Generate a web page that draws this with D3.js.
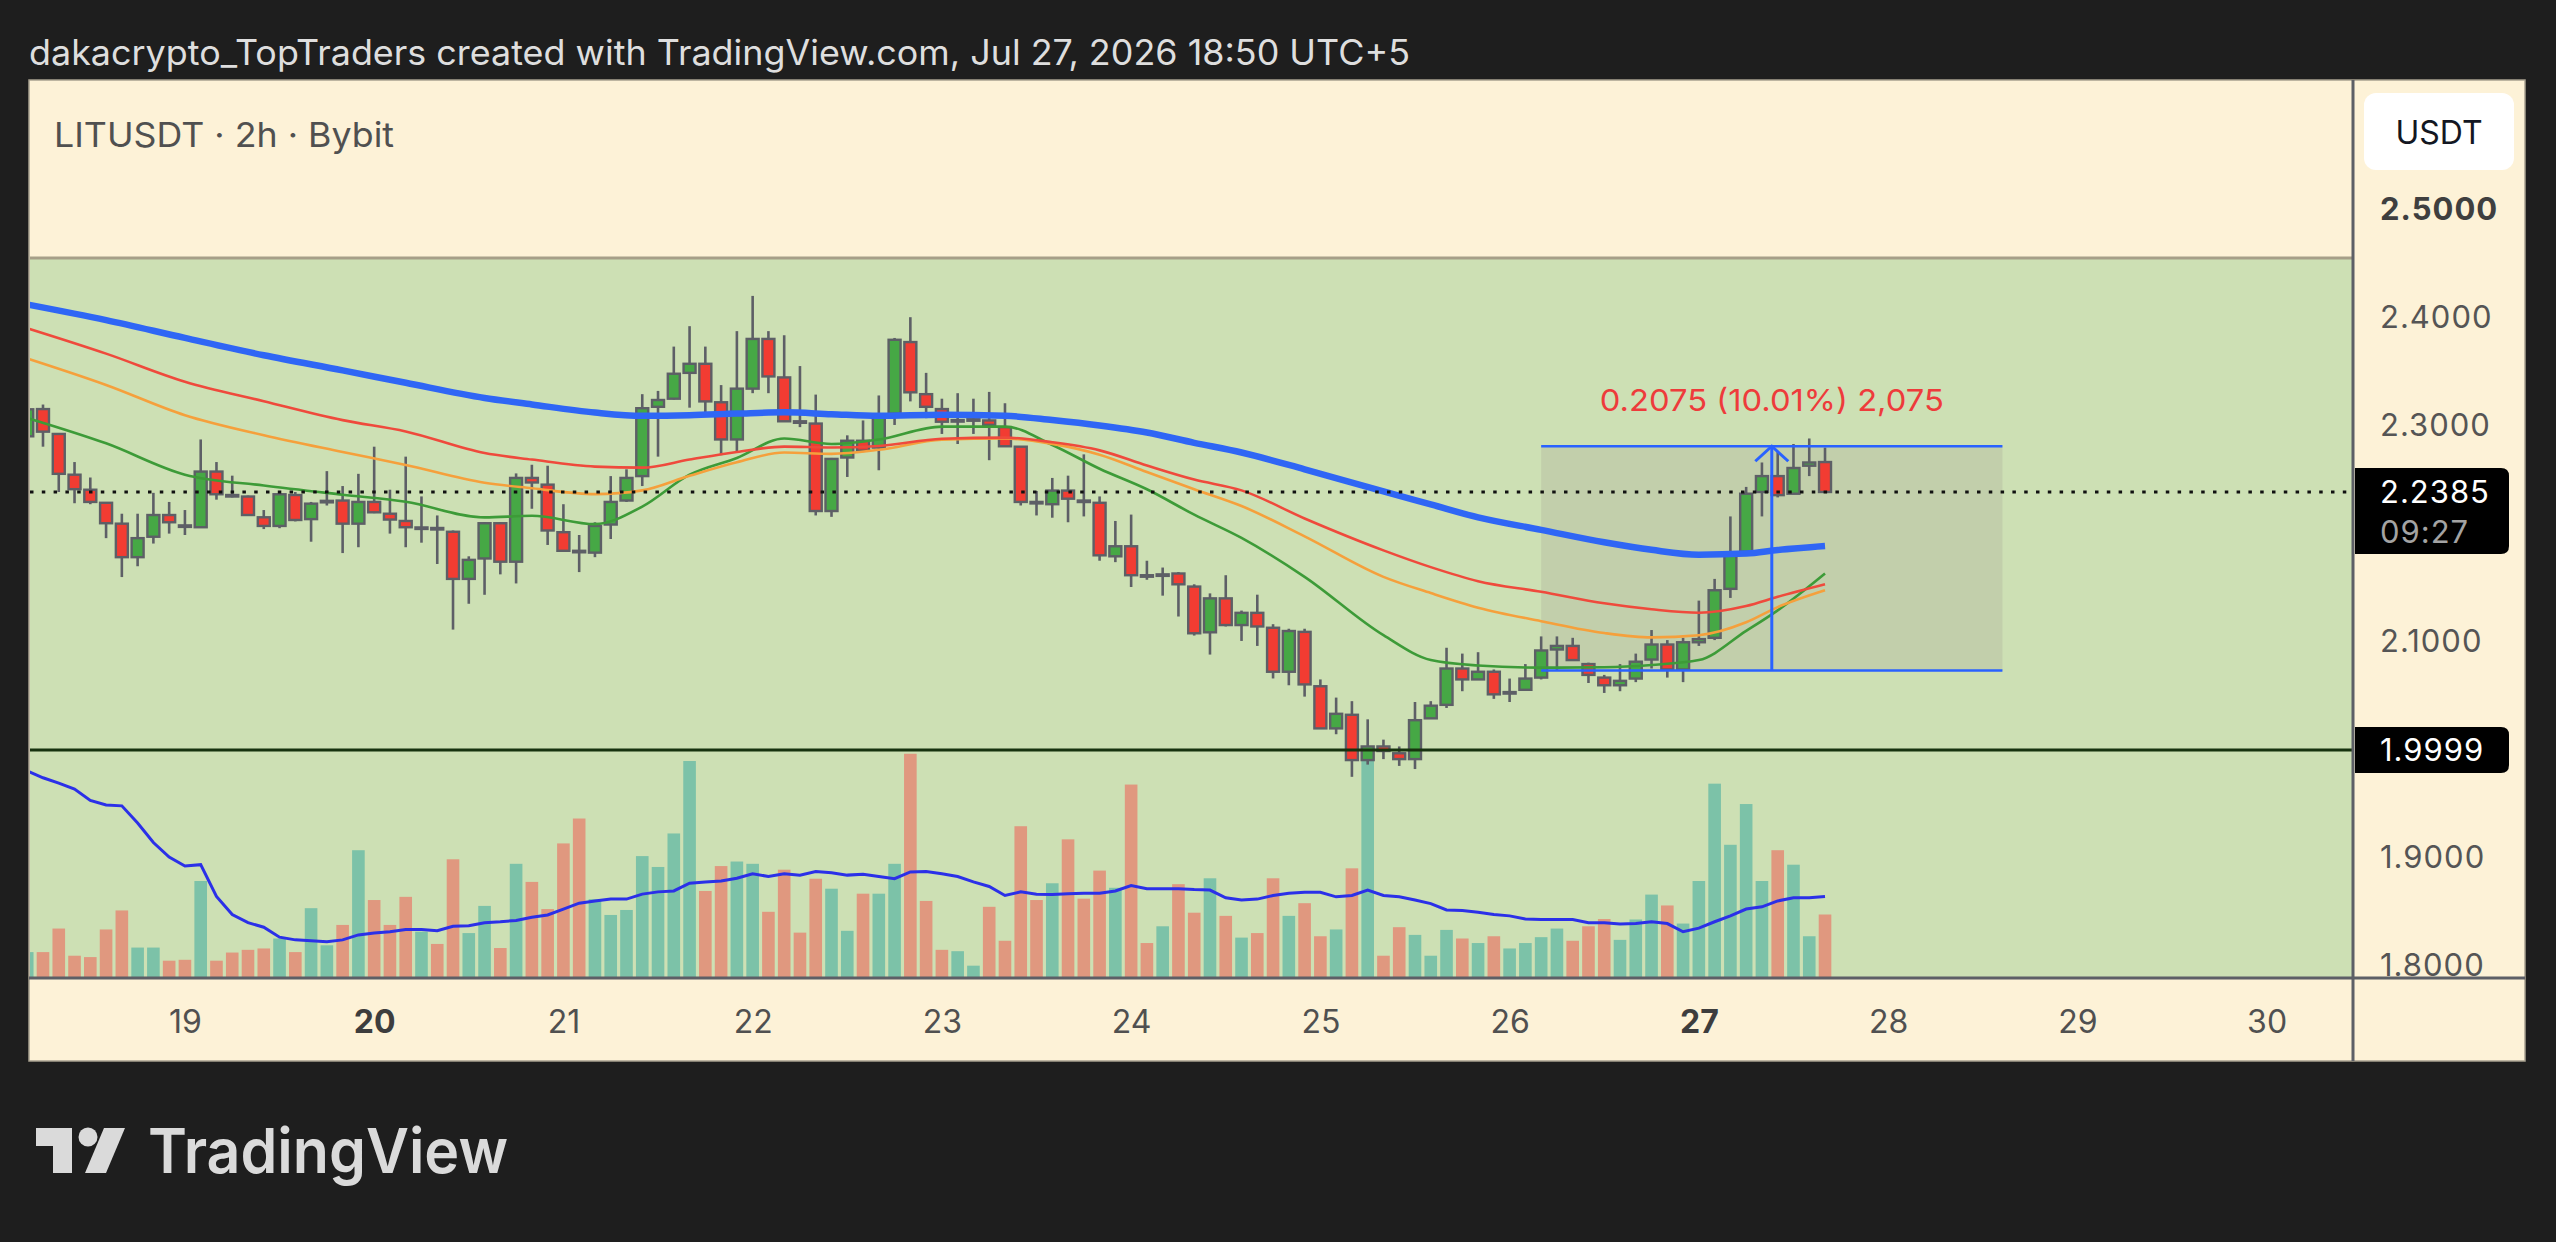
<!DOCTYPE html>
<html>
<head>
<meta charset="utf-8">
<script src="https://cdn.jsdelivr.net/npm/d3@7"></script>
<style>
  html, body { margin: 0; background: #1e1e1e; }
  svg { display: block; font-family: Inter, "Noto Sans", sans-serif; }
</style>
</head>
<body>
<svg id="chart" width="2556" height="1242"></svg>
<script>
// LITUSDT 2h candles, first bar Jul 18 04:00 (UTC+5)
const firstBar = Date.UTC(2026, 6, 18, 4);
const barMs = 2 * 3600 * 1000;

const open = [
  2.2900, 2.3152, 2.2922, 2.2545, 2.2406, 2.2285, 2.2092, 2.1782, 2.1971, 2.2172, 2.2076, 2.2059, 2.2574, 2.2357, 2.2343, 2.2151, 2.2071, 2.2357, 2.2134, 2.2302, 2.2306,
  2.2092, 2.2293, 2.2184, 2.2117, 2.2056, 2.2052, 2.2017, 2.1581, 2.1770, 2.2096,
  2.1740, 2.2515, 2.2453, 2.2013, 2.1841, 2.1824, 2.2084, 2.2306, 2.2532, 2.3173,
  2.3248, 2.3487, 2.3571, 2.3215, 2.2871, 2.3341, 2.3801, 2.3445, 2.3039, 2.3018,
  2.2209, 2.2704, 2.2859, 2.2796, 2.3110, 2.3772, 2.3290, 2.3152, 2.3046, 2.3054,
  2.3047, 2.2985, 2.2804, 2.2293, 2.2272, 2.2398, 2.2306, 2.2285, 2.1790, 2.1883,
  2.1615, 2.1621, 2.1631, 2.1510, 2.1087, 2.1401, 2.1154, 2.1267, 2.1129, 2.0722,
  2.1091, 2.0588, 2.0198, 2.0324, 1.9905, 2.0031, 1.9968, 1.9914, 2.0291, 2.0416,
  2.0752, 2.0651, 2.0722, 2.0532, 2.0555, 2.0668, 2.0928, 2.0961, 2.0793, 2.0668,
  2.0597, 2.0659, 2.0835, 2.0974, 2.0743, 2.0995, 2.1036, 2.1489, 2.1832, 2.2385, 2.2532, 2.2369, 2.2628, 2.2662
];
const high = [
  2.3194, 2.3194, 2.2930, 2.2662, 2.2519, 2.2285, 2.2184, 2.2184, 2.2377, 2.2293, 2.2218, 2.2871, 2.2662, 2.2536, 2.2352, 2.2218, 2.2377, 2.2385, 2.2293, 2.2578, 2.2440,
  2.2553, 2.2804, 2.2406, 2.2712, 2.2344, 2.2168, 2.2029, 2.1790, 2.2105, 2.2105,
  2.2557, 2.2637, 2.2628, 2.2272, 2.1987, 2.2105, 2.2532, 2.2595, 2.3290, 2.3320,
  2.3730, 2.3919, 2.3730, 2.3374, 2.3873, 2.4199, 2.3873, 2.3835, 2.3550, 2.3286,
  2.2700, 2.2909, 2.3047, 2.3278, 2.3810, 2.4002, 2.3487, 2.3248, 2.3299, 2.3248,
  2.3311, 2.3206, 2.2808, 2.2394, 2.2515, 2.2536, 2.2733, 2.2344, 2.2117, 2.2176,
  2.1749, 2.1686, 2.1644, 2.1531, 2.1447, 2.1615, 2.1288, 2.1435, 2.1162, 2.1120,
  2.1120, 2.0651, 2.0483, 2.0450, 2.0282, 2.0094, 2.0031, 2.0442, 2.0450, 2.0944,
  2.0890, 2.0903, 2.0743, 2.0659, 2.0793, 2.1049, 2.1049, 2.1036, 2.0806, 2.0693,
  2.0793, 2.0890, 2.1108, 2.1015, 2.1036, 2.1380, 2.1581, 2.2159, 2.2432, 2.2658, 2.2754, 2.2829, 2.2880, 2.2796
];
const low = [
  2.2850, 2.2804, 2.2385, 2.2281, 2.2272, 2.1958, 2.1598, 2.1698, 2.1908, 2.2000, 2.1987, 2.2059, 2.2314, 2.2335, 2.2163, 2.2042, 2.2050, 2.2113, 2.1925, 2.2260, 2.1820,
  2.1874, 2.2189, 2.2000, 2.1874, 2.1916, 2.1719, 2.1112, 2.1351, 2.1434, 2.1623,
  2.1539, 2.2230, 2.1895, 2.1836, 2.1644, 2.1782, 2.1950, 2.2293, 2.2440, 2.2712,
  2.3240, 2.3165, 2.3089, 2.2725, 2.2754, 2.3299, 2.3299, 2.3035, 2.2985, 2.2168,
  2.2155, 2.2524, 2.2754, 2.2586, 2.3005, 2.3223, 2.3068, 2.2922, 2.2829, 2.2922,
  2.2679, 2.2804, 2.2260, 2.2168, 2.2147, 2.2105, 2.2159, 2.1749, 2.1736, 2.1506,
  2.1573, 2.1426, 2.1233, 2.1057, 2.0881, 2.1141, 2.1007, 2.0961, 2.0660, 2.0597,
  2.0492, 2.0195, 2.0144, 1.9750, 1.9863, 1.9914, 1.9851, 1.9822, 2.0288, 2.0387,
  2.0542, 2.0648, 2.0471, 2.0442, 2.0552, 2.0651, 2.0735, 2.0825, 2.0618, 2.0526,
  2.0542, 2.0626, 2.0752, 2.0668, 2.0626, 2.0961, 2.1015, 2.1405, 2.1828, 2.2159, 2.2335, 2.2365, 2.2532, 2.2377
];
const close = [
  2.3150, 2.2943, 2.2553, 2.2411, 2.2293, 2.2096, 2.1782, 2.1958, 2.2172, 2.2105, 2.2072, 2.2574, 2.2364, 2.2355, 2.2172, 2.2071, 2.2364, 2.2126, 2.2277, 2.2303, 2.2092,
  2.2293, 2.2197, 2.2130, 2.2059, 2.2057, 2.2050, 2.1581, 2.1757, 2.2096, 2.1740,
  2.2515, 2.2473, 2.2029, 2.1841, 2.1839, 2.2071, 2.2293, 2.2515, 2.3160, 2.3236,
  2.3479, 2.3571, 2.3223, 2.2871, 2.3341, 2.3801, 2.3454, 2.3039, 2.3037, 2.2209,
  2.2691, 2.2859, 2.2767, 2.3098, 2.3793, 2.3307, 2.3173, 2.3035, 2.3050, 2.3058,
  2.3006, 2.2808, 2.2293, 2.2290, 2.2398, 2.2323, 2.2304, 2.1799, 2.1883, 2.1615,
  2.1613, 2.1623, 2.1531, 2.1078, 2.1401, 2.1154, 2.1267, 2.1141, 2.0722, 2.1099,
  2.0605, 2.0198, 2.0333, 1.9905, 2.0031, 1.9989, 1.9914, 2.0274, 2.0408, 2.0752,
  2.0651, 2.0722, 2.0513, 2.0534, 2.0659, 2.0919, 2.0961, 2.0830, 2.0693, 2.0597,
  2.0638, 2.0815, 2.0974, 2.0743, 2.0995, 2.1024, 2.1476, 2.1811, 2.2369, 2.2532, 2.2356, 2.2607, 2.2658, 2.2385
];
// volume in thousands of LIT, and its moving average
const volume = [
  55, 55, 107, 47, 44, 105, 147, 65, 65, 36, 38, 212, 36, 54, 60, 63, 85, 55, 152, 70, 115,
  280, 170, 115, 177, 100, 73, 260, 97, 157, 64,
  250, 210, 150, 295, 350, 172, 137, 148, 267, 243,
  317, 477, 190, 245, 255, 250, 144, 237, 98, 217,
  195, 102, 184, 184, 250, 493, 168, 60, 57, 25,
  155, 80, 333, 170, 207, 304, 173, 235, 197, 425,
  75, 112, 205, 142, 218, 135, 87, 97, 218, 135,
  163, 90, 105, 240, 480, 47, 110, 93, 47, 104,
  85, 75, 90, 63, 75, 88, 107, 80, 112, 128,
  82, 127, 182, 158, 118, 212, 427, 292, 382, 212, 280, 248, 90, 138
];
const volumeMa = [
  455, 440, 428, 415, 390, 380, 378, 340, 297, 265, 245, 248, 178, 138, 120, 110, 88, 82, 80, 78, 82,
  93, 97, 100, 105, 105, 102, 112, 113, 120, 122,
  125, 132, 137, 150, 163, 168, 172, 172, 183, 188,
  190, 207, 210, 212, 218, 228, 222, 228, 225, 233,
  230, 225, 227, 222, 217, 232, 233, 228, 222, 210,
  200, 180, 188, 183, 182, 184, 185, 185, 190, 202,
  195, 195, 195, 193, 192, 175, 170, 172, 180, 185,
  187, 187, 177, 180, 192, 180, 177, 170, 162, 148,
  147, 143, 138, 135, 128, 127, 127, 127, 120, 120,
  117, 118, 122, 118, 100, 108, 122, 135, 150, 155, 168, 175, 175, 178
];

// moving averages, read at these bar numbers
const maBar = [0, 5, 10, 15, 20, 24, 29, 32, 36, 39, 42, 45, 48, 51, 54, 58, 62, 65, 68, 71, 74, 77, 81, 86, 89, 92, 96, 100, 103, 106, 109, 111, 114];
const ema200 = [2.4120, 2.3975, 2.3810, 2.3650, 2.3510, 2.3395, 2.3255, 2.3195, 2.3120, 2.3090, 2.3095, 2.3110, 2.3122, 2.3105, 2.3090, 2.3100, 2.3090, 2.3050, 2.3000, 2.2935, 2.2840, 2.2750, 2.2595, 2.2390, 2.2270, 2.2150, 2.2035, 2.1920, 2.1850, 2.1805, 2.1815, 2.1848, 2.1885];
const ema100 = [2.3900, 2.3665, 2.3405, 2.3225, 2.3050, 2.2945, 2.2745, 2.2685, 2.2620, 2.2610, 2.2685, 2.2755, 2.2805, 2.2796, 2.2810, 2.2878, 2.2888, 2.2845, 2.2770, 2.2630, 2.2500, 2.2400, 2.2140, 2.1845, 2.1690, 2.1560, 2.1462, 2.1355, 2.1300, 2.1268, 2.1330, 2.1415, 2.1531];
const ema50 = [2.3620, 2.3375, 2.3095, 2.2910, 2.2755, 2.2635, 2.2470, 2.2420, 2.2365, 2.2400, 2.2535, 2.2660, 2.2750, 2.2738, 2.2775, 2.2868, 2.2880, 2.2830, 2.2730, 2.2570, 2.2410, 2.2255, 2.1975, 2.1600, 2.1450, 2.1315, 2.1190, 2.1080, 2.1040, 2.1060, 2.1180, 2.1320, 2.1476];
const ema20 = [2.3070, 2.2835, 2.2545, 2.2445, 2.2360, 2.2295, 2.2150, 2.2165, 2.2088, 2.2250, 2.2545, 2.2700, 2.2880, 2.2829, 2.2870, 2.2990, 2.2990, 2.2820, 2.2600, 2.2410, 2.2175, 2.1960, 2.1600, 2.1060, 2.0830, 2.0780, 2.0760, 2.0764, 2.0785, 2.0830, 2.1100, 2.1290, 2.1631];

// 2.2000 and 2.0000 sit under the price labels, so they are not shown
const priceTicks = [1.8, 1.9, 2.1, 2.3, 2.4, 2.5];
const boldPriceTicks = [2.5];
const supportLevel = 1.9999;
const zoneTop = 2.455;
const countdown = '09:27';
// price range measurement drawing
const measureBars = [96, 125.25];
const measurePrices = [2.0733, 2.2808];

const title = 'dakacrypto_TopTraders created with TradingView.com, Jul 27, 2026 18:50 UTC+5';
const symbolLine = 'LITUSDT · 2h · Bybit';

// layout
const panel = { left: 29, top: 80, right: 2525, bottom: 1061 };
const plot = { left: 30, top: 81, right: 2353, bottom: 978 };
const cream = '#fdf2d7';
const zoneGreen = '#cde0b4';
const gridGray = '#5d5f66';
const upColor = '#46a845', downColor = '#f23c32';
const upVol = '#7cc2a8', downVol = '#e0987f';

const svg = d3.select('#chart');
const barTime = b => new Date(firstBar + b * barMs);

const x = d3.scaleUtc()
  .domain([barTime(0.176), barTime(147.48)])
  .range([plot.left, plot.right]);
const y = d3.scaleLinear()
  .domain([1.7889, 2.6187])
  .range([plot.bottom, plot.top]);
const yVol = d3.scaleLinear()
  .domain([0, 500])
  .range([plot.bottom - 1, plot.bottom - 1 - 226.4]);

const bars = open.map((o, i) => ({
  t: barTime(i), o, h: high[i], l: low[i], c: close[i], v: volume[i], vma: volumeMa[i]
}));
const step = x(barTime(1)) - x(barTime(0));

svg.append('rect').attr('width', 2556).attr('height', 1242).attr('fill', '#1e1e1e');

svg.append('text')
  .attr('x', 29).attr('y', 65)
  .attr('font-size', 35).attr('fill', '#dedede')
  .attr('textLength', 1381).attr('lengthAdjust', 'spacingAndGlyphs')
  .text(title);

svg.append('rect')
  .attr('x', panel.left).attr('y', panel.top)
  .attr('width', panel.right - panel.left).attr('height', panel.bottom - panel.top)
  .attr('fill', cream).attr('stroke', '#a8a190').attr('stroke-width', 1.5);

const defs = svg.append('defs');
defs.append('clipPath').attr('id', 'plot-clip').append('rect')
  .attr('x', plot.left).attr('y', plot.top)
  .attr('width', plot.right - plot.left).attr('height', plot.bottom - plot.top);

const g = svg.append('g').attr('clip-path', 'url(#plot-clip)');

// green zone drawing
g.append('rect')
  .attr('x', plot.left).attr('y', y(zoneTop))
  .attr('width', plot.right - plot.left).attr('height', plot.bottom - y(zoneTop))
  .attr('fill', zoneGreen);
g.append('line')
  .attr('x1', plot.left).attr('x2', plot.right)
  .attr('y1', y(zoneTop)).attr('y2', y(zoneTop))
  .attr('stroke', '#a69f88').attr('stroke-width', 3);

// measurement box fill
const mx0 = x(barTime(measureBars[0])), mx1 = x(barTime(measureBars[1]));
const myLow = y(measurePrices[0]), myHigh = y(measurePrices[1]);
g.append('rect')
  .attr('x', mx0).attr('y', myHigh)
  .attr('width', mx1 - mx0).attr('height', myLow - myHigh)
  .attr('fill', '#c2cfab');

// volume
g.append('g').selectAll('rect').data(bars).join('rect')
  .attr('x', d => x(d.t) - step * 0.4)
  .attr('width', step * 0.8)
  .attr('y', d => yVol(d.v))
  .attr('height', d => yVol(0) - yVol(d.v))
  .attr('fill', d => d.c >= d.o ? upVol : downVol);

g.append('path')
  .datum(bars)
  .attr('fill', 'none').attr('stroke', '#2b30e8').attr('stroke-width', 3)
  .attr('d', d3.line().x(d => x(d.t)).y(d => yVol(d.vma)));

// candles
const candle = g.append('g').selectAll('g').data(bars).join('g');
candle.append('line')
  .attr('x1', d => x(d.t)).attr('x2', d => x(d.t))
  .attr('y1', d => y(d.h)).attr('y2', d => y(d.l))
  .attr('stroke', gridGray).attr('stroke-width', 2.6);
candle.append('rect')
  .attr('x', d => x(d.t) - step * 0.38)
  .attr('width', step * 0.76)
  .attr('y', d => y(Math.max(d.o, d.c)))
  .attr('height', d => Math.max(1.5, Math.abs(y(d.o) - y(d.c))))
  .attr('fill', d => d.c >= d.o ? upColor : downColor)
  .attr('stroke', gridGray).attr('stroke-width', 2.4);

// moving averages
const maLine = d3.line()
  .x((d, i) => x(barTime(maBar[i])))
  .y(d => y(d))
  .curve(d3.curveMonotoneX);
[
  { values: ema20, color: '#3d9b38', width: 2.6 },
  { values: ema50, color: '#f5a03c', width: 2.6 },
  { values: ema100, color: '#ef4a3c', width: 2.6 },
  { values: ema200, color: '#2f66f5', width: 6.5 }
].forEach(s => {
  g.append('path')
    .datum(s.values)
    .attr('fill', 'none').attr('stroke', s.color).attr('stroke-width', s.width)
    .attr('stroke-linejoin', 'round')
    .attr('d', maLine);
});

// support and last price lines
g.append('line')
  .attr('x1', plot.left).attr('x2', plot.right)
  .attr('y1', y(supportLevel)).attr('y2', y(supportLevel))
  .attr('stroke', '#17330f').attr('stroke-width', 3);

const lastPrice = close[close.length - 1];
g.append('line')
  .attr('x1', plot.left).attr('x2', plot.right)
  .attr('y1', y(lastPrice)).attr('y2', y(lastPrice))
  .attr('stroke', '#111').attr('stroke-width', 3)
  .attr('stroke-dasharray', '3.5 8.3');

// measurement lines, arrow and label
const measureBlue = '#2962ff';
[myHigh, myLow].forEach(yy => {
  g.append('line')
    .attr('x1', mx0).attr('x2', mx1).attr('y1', yy).attr('y2', yy)
    .attr('stroke', measureBlue).attr('stroke-width', 2.6);
});
const mcx = (mx0 + mx1) / 2;
g.append('line')
  .attr('x1', mcx).attr('x2', mcx).attr('y1', myLow).attr('y2', myHigh)
  .attr('stroke', measureBlue).attr('stroke-width', 3);
g.append('path')
  .attr('d', `M${mcx - 16.5},${myHigh + 15}L${mcx},${myHigh}L${mcx + 16.5},${myHigh + 15}`)
  .attr('fill', 'none').attr('stroke', measureBlue).attr('stroke-width', 3);

const diff = measurePrices[1] - measurePrices[0];
const measureText = `${diff.toFixed(4)} (${(diff / measurePrices[0] * 100).toFixed(2)}%) ${d3.format(',')(Math.round(diff * 10000))}`;
g.append('text')
  .attr('x', mcx).attr('y', myHigh - 35)
  .attr('text-anchor', 'middle')
  .attr('font-size', 30).attr('fill', '#ee3b3b')
  .attr('textLength', 344).attr('lengthAdjust', 'spacingAndGlyphs')
  .text(measureText);

// price axis
const yAxis = svg.append('g')
  .attr('transform', `translate(2380,0)`)
  .call(d3.axisRight(y).tickValues(priceTicks).tickFormat(d3.format('.4f')).tickSize(0).tickPadding(0));
yAxis.select('.domain').remove();
yAxis.selectAll('text')
  .attr('font-family', 'Inter, "Noto Sans", sans-serif')
  .attr('font-size', 31)
  .attr('letter-spacing', 1)
  .attr('font-weight', d => boldPriceTicks.includes(d) ? 700 : 400)
  .attr('fill', d => boldPriceTicks.includes(d) ? '#3f3f3f' : '#555');

// time axis
const days = d3.utcDay.range(new Date(Date.UTC(2026, 6, 19)), new Date(Date.UTC(2026, 6, 31)));
const xAxis = svg.append('g')
  .attr('transform', `translate(0,1010)`)
  .call(d3.axisBottom(x).tickValues(days).tickFormat(d3.utcFormat('%-d')).tickSize(0).tickPadding(0));
xAxis.select('.domain').remove();
xAxis.selectAll('text')
  .attr('font-family', 'Inter, "Noto Sans", sans-serif')
  .attr('font-size', 32)
  .attr('font-weight', d => d.getUTCDay() === 1 ? 700 : 400)
  .attr('fill', d => d.getUTCDay() === 1 ? '#3d3d3d' : '#505050');

// separators
svg.append('line')
  .attr('x1', panel.left).attr('x2', panel.right)
  .attr('y1', plot.bottom).attr('y2', plot.bottom)
  .attr('stroke', gridGray).attr('stroke-width', 3);
svg.append('line')
  .attr('x1', plot.right).attr('x2', plot.right)
  .attr('y1', panel.top).attr('y2', panel.bottom)
  .attr('stroke', gridGray).attr('stroke-width', 3);

// price labels on the axis
function labelBox(y0, y1) {
  const x0 = plot.right + 2, x1 = 2509, r = 8;
  return `M${x0},${y0}H${x1 - r}Q${x1},${y0} ${x1},${y0 + r}V${y1 - r}Q${x1},${y1} ${x1 - r},${y1}H${x0}Z`;
}
const lastY = y(lastPrice);
svg.append('path').attr('d', labelBox(lastY - 24, lastY + 62)).attr('fill', '#000');
svg.append('text').attr('x', 2380).attr('y', lastY + 11)
  .attr('font-size', 31).attr('letter-spacing', 1).attr('fill', '#fff')
  .text(lastPrice.toFixed(4));
svg.append('text').attr('x', 2380).attr('y', lastY + 51)
  .attr('font-size', 31).attr('letter-spacing', 1).attr('fill', '#a3a3a3')
  .text(countdown);

const supY = y(supportLevel);
svg.append('path').attr('d', labelBox(supY - 23, supY + 23)).attr('fill', '#000');
svg.append('text').attr('x', 2380).attr('y', supY + 11)
  .attr('font-size', 31).attr('letter-spacing', 1).attr('fill', '#fff')
  .text(supportLevel.toFixed(4));

// currency button
svg.append('rect')
  .attr('x', 2364).attr('y', 93).attr('width', 150).attr('height', 77).attr('rx', 12)
  .attr('fill', '#fff');
svg.append('text')
  .attr('x', 2439).attr('y', 144).attr('text-anchor', 'middle')
  .attr('font-size', 32).attr('fill', '#131722')
  .text('USDT');

// symbol legend
svg.append('text')
  .attr('x', 54).attr('y', 147)
  .attr('font-size', 34).attr('fill', '#505050')
  .attr('textLength', 340).attr('lengthAdjust', 'spacingAndGlyphs')
  .text(symbolLine);

// TradingView logo
const logo = svg.append('g').attr('fill', '#dadada');
logo.append('path').attr('d', 'M36,1128H72V1173H53V1146H36Z');
logo.append('circle').attr('cx', 88).attr('cy', 1137).attr('r', 9.5);
logo.append('path').attr('d', 'M104,1128H125L106,1173H85Z');
logo.append('text')
  .attr('x', 148).attr('y', 1173)
  .attr('font-size', 62).attr('font-weight', 600)
  .attr('textLength', 360).attr('lengthAdjust', 'spacingAndGlyphs')
  .text('TradingView');
</script>
</body>
</html>
